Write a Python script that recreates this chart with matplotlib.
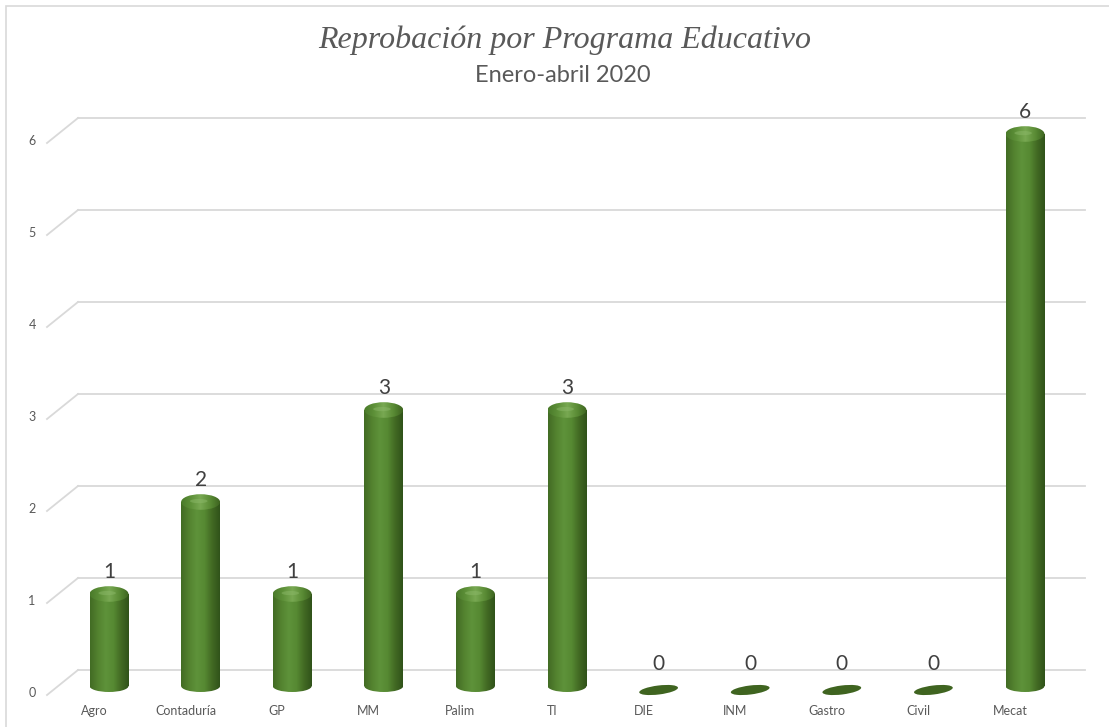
import matplotlib
matplotlib.use('Agg')
import matplotlib.pyplot as plt
import numpy as np
from matplotlib.patches import Rectangle, Ellipse
from matplotlib.colors import LinearSegmentedColormap

# Datos
programas = ['Agro', 'Contaduría', 'GP', 'MM', 'Palim', 'TI', 'DIE', 'INM', 'Gastro', 'Civil', 'Mecat']
reprobados = [1, 2, 1, 3, 1, 3, 0, 0, 0, 0, 6]
y_ticks = [0, 1, 2, 3, 4, 5, 6]

titulo = 'Reprobación por Programa Educativo'
subtitulo = 'Enero-abril 2020'

# escala: 1 categoría = 91.6 px, 1 unidad = 92 px
px_x = 91.6
px_y = 92.0

fig = plt.figure(figsize=(11.09, 7.27), dpi=100)
ax = fig.add_axes([0, 0, 1, 1])
ax.set_xlim(-109 / px_x, (1109 - 109) / px_x)
ax.set_ylim((686 - 727) / px_y, 686 / px_y)
ax.axis('off')

# borde del gráfico
fig.patches.append(Rectangle((6 / 1109, -0.1), 1.2, 1 - 6 / 727 + 0.1, transform=fig.transFigure,
                             fill=False, edgecolor='#d9d9d9', linewidth=1.2))

grid_color = '#d9d9d9'
x_front = (47 - 109) / px_x
x_back = (78 - 109) / px_x
x_end = (1085 - 109) / px_x
dy_back = 16 / px_y
dy_front = -9 / px_y
for t in y_ticks:
    ax.plot([x_back, x_end], [t + dy_back, t + dy_back], color=grid_color, lw=1.3, zorder=1)
    ax.plot([x_front, x_back], [t + dy_front, t + dy_back], color=grid_color, lw=1.3, zorder=1)
    ax.text((32 - 109) / px_x, t - 7 / px_y, str(t), ha='center', va='center',
            fontsize=9, color='#595959', family='Lato')

# cilindros
cmap = LinearSegmentedColormap.from_list('cil', ['#426b24', '#53822f', '#5e923a', '#578a33', '#426a23', '#30521a'])
top_cmap = LinearSegmentedColormap.from_list('tapa', ['#4a7a2a', '#5d9038', '#78a852', '#5a8c35', '#3d6420'])
grad = np.linspace(0, 1, 200).reshape(1, -1)
w = 39 / px_x
h = 12 / px_y

for i, v in enumerate(reprobados):
    x = i
    if v == 0:
        e = Ellipse((x, -4 / px_y), w, 9 / px_y, angle=7, facecolor='#3f6420', edgecolor='none', zorder=3)
        ax.add_patch(e)
    else:
        body = Rectangle((x - w / 2, 0), w, v, facecolor='none', edgecolor='none')
        ax.add_patch(body)
        im = ax.imshow(grad, cmap=cmap, extent=[x - w / 2, x + w / 2, -h, v], aspect='auto',
                       zorder=3, interpolation='bilinear')
        bottom = Ellipse((x, 0), w, h, facecolor='none', edgecolor='none')
        ax.add_patch(bottom)
        im.set_clip_path(body)
        im2 = ax.imshow(grad, cmap=cmap, extent=[x - w / 2, x + w / 2, -h, v], aspect='auto',
                        zorder=3, interpolation='bilinear')
        im2.set_clip_path(bottom)
        top = Ellipse((x, v), w, h * 1.3, facecolor='none', edgecolor='none')
        ax.add_patch(top)
        im3 = ax.imshow(grad, cmap=top_cmap, extent=[x - w / 2, x + w / 2, v - h, v + h], aspect='auto',
                        zorder=4, interpolation='bilinear')
        im3.set_clip_path(top)
        ax.add_patch(Ellipse((x - 0.02, v + 0.01), w * 0.45, h * 0.35, facecolor='#8bb868',
                             edgecolor='none', alpha=0.5, zorder=5))
    ax.text(x, v + 22 / px_y, str(v), ha='center', va='center', fontsize=15, color='#404040', family='Lato')
    ax.text(x - 15 / px_x, (686 - 711) / px_y, programas[i], ha='center', va='center',
            fontsize=9, color='#595959', family='Lato')

fig.text(565 / 1109, 1 - 40 / 727, titulo, ha='center', va='center', fontsize=23,
         style='italic', family='Liberation Serif', color='#595959')
fig.text(563 / 1109, 1 - 76 / 727, subtitulo, ha='center', va='center', fontsize=17,
         family='Lato', color='#595959')

fig.savefig('out.png', dpi=100)
